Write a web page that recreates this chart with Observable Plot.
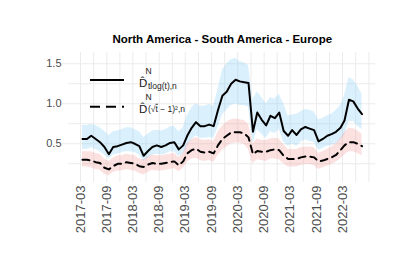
<!DOCTYPE html>
<html><head><meta charset="utf-8">
<script src="https://cdn.jsdelivr.net/npm/d3@7"></script>
<script src="https://cdn.jsdelivr.net/npm/@observablehq/plot@0.6"></script>
<style>body{margin:0;background:#fff;} svg{display:block;}</style>
</head><body><div id="chart"></div>
<script>
const title = "North America - South America - Europe";
const months = ["2017-03","2017-04","2017-05","2017-06","2017-07","2017-08","2017-09","2017-10","2017-11","2017-12",
"2018-01","2018-02","2018-03","2018-04","2018-05","2018-06","2018-07","2018-08","2018-09","2018-10","2018-11","2018-12",
"2019-01","2019-02","2019-03","2019-04","2019-05","2019-06","2019-07","2019-08","2019-09","2019-10","2019-11","2019-12",
"2020-01","2020-02","2020-03","2020-04","2020-05","2020-06","2020-07","2020-08","2020-09","2020-10","2020-11","2020-12",
"2021-01","2021-02","2021-03","2021-04","2021-05","2021-06","2021-07","2021-08","2021-09","2021-10","2021-11","2021-12",
"2022-01","2022-02","2022-03","2022-04","2022-05","2022-06","2022-07"];
const tlogValues = [0.56,0.56,0.60,0.56,0.52,0.46,0.37,0.46,0.47,0.49,0.51,0.52,0.50,0.47,0.35,0.41,0.46,0.48,0.46,0.48,0.51,0.52,
0.43,0.48,0.60,0.70,0.77,0.72,0.72,0.74,0.72,0.92,1.10,1.15,1.25,1.30,1.28,1.27,1.26,0.65,0.89,0.80,0.73,0.85,0.82,0.89,
0.66,0.60,0.67,0.61,0.68,0.71,0.69,0.67,0.53,0.56,0.60,0.62,0.65,0.70,0.79,1.05,1.03,0.94,0.87];
const tlogUpper = [0.73,0.73,0.74,0.73,0.70,0.66,0.60,0.65,0.66,0.68,0.70,0.70,0.68,0.65,0.58,0.62,0.66,0.67,0.66,0.68,0.71,0.72,
0.65,0.70,0.85,0.95,1.00,0.97,0.97,0.99,0.97,1.18,1.42,1.50,1.55,1.57,1.53,1.51,1.48,1.05,1.15,1.08,1.00,1.08,1.06,1.12,
1.00,0.85,0.86,0.87,0.90,0.93,0.92,0.90,0.80,0.82,0.85,0.87,0.92,0.98,1.10,1.33,1.30,1.22,1.12];
const tlogLower = [0.43,0.43,0.45,0.43,0.40,0.36,0.31,0.36,0.37,0.39,0.40,0.40,0.39,0.36,0.28,0.32,0.36,0.37,0.36,0.37,0.40,0.40,
0.34,0.37,0.46,0.55,0.60,0.57,0.57,0.58,0.57,0.70,0.86,0.92,0.98,1.00,0.98,0.98,0.96,0.50,0.68,0.62,0.57,0.65,0.63,0.68,
0.52,0.47,0.50,0.47,0.52,0.55,0.53,0.52,0.42,0.44,0.47,0.48,0.50,0.54,0.60,0.78,0.78,0.72,0.68];
const sqrtValues = [0.30,0.30,0.29,0.27,0.26,0.20,0.18,0.22,0.25,0.25,0.27,0.26,0.25,0.22,0.21,0.24,0.26,0.25,0.25,0.26,0.27,0.28,
0.23,0.28,0.38,0.42,0.44,0.40,0.39,0.40,0.38,0.48,0.56,0.60,0.64,0.645,0.645,0.63,0.58,0.37,0.41,0.40,0.40,0.42,0.43,0.42,
0.35,0.31,0.31,0.31,0.33,0.34,0.34,0.33,0.28,0.29,0.31,0.33,0.36,0.42,0.48,0.52,0.52,0.50,0.47];
const sqrtUpper = [0.40,0.40,0.40,0.38,0.37,0.31,0.28,0.32,0.35,0.35,0.37,0.36,0.35,0.31,0.30,0.34,0.36,0.35,0.35,0.36,0.37,0.38,
0.33,0.38,0.50,0.55,0.58,0.55,0.54,0.55,0.53,0.64,0.72,0.77,0.80,0.81,0.80,0.79,0.74,0.50,0.56,0.54,0.54,0.56,0.57,0.56,
0.49,0.43,0.43,0.43,0.45,0.46,0.46,0.45,0.38,0.40,0.43,0.46,0.50,0.57,0.64,0.69,0.69,0.66,0.62];
const sqrtLower = [0.21,0.21,0.20,0.18,0.17,0.12,0.10,0.14,0.16,0.16,0.18,0.17,0.16,0.13,0.11,0.14,0.17,0.16,0.16,0.17,0.18,0.19,
0.15,0.19,0.27,0.31,0.32,0.29,0.28,0.29,0.27,0.35,0.42,0.46,0.50,0.51,0.51,0.49,0.43,0.25,0.30,0.29,0.28,0.31,0.31,0.30,
0.25,0.21,0.21,0.21,0.23,0.24,0.24,0.23,0.18,0.20,0.22,0.24,0.27,0.31,0.36,0.40,0.40,0.38,0.35];
const xTickLabels = ["2017-03","2017-09","2018-03","2018-09","2019-03","2019-09","2020-03","2020-09","2021-03","2021-09","2022-03"];
const xGridMonths = ["2017-03","2017-06","2017-09","2017-12","2018-03","2018-06","2018-09","2018-12","2019-03","2019-06","2019-09","2019-12",
"2020-03","2020-06","2020-09","2020-12","2021-03","2021-06","2021-09","2021-12","2022-03","2022-06","2022-09"];
const yTickValues = [0.5, 1.0, 1.5];
const yGridValues = [0.25, 0.5, 0.75, 1.0, 1.25, 1.5];

const mid = m => new Date(m + "-15T00:00:00Z");
const first = m => new Date(m + "-01T00:00:00Z");
const rows = months.map((m, i) => ({
  date: mid(m), tlog: tlogValues[i], tlogLo: tlogLower[i], tlogHi: tlogUpper[i],
  sq: sqrtValues[i], sqLo: sqrtLower[i], sqHi: sqrtUpper[i]
}));
const d0 = rows[0].date, d1 = rows[rows.length - 1].date;
const span = d1 - d0;
const xDomain = [new Date(+d0 - 0.05 * span), new Date(+d1 + 0.05 * span)];
const font = "Liberation Sans, Arial, Helvetica, sans-serif";

const W = 407, H = 273;
const plot = Plot.plot({
  width: W, height: H,
  marginLeft: 68, marginRight: 31.5, marginTop: 52, marginBottom: 91,
  style: {fontFamily: font, background: "#fff"},
  x: {type: "utc", domain: xDomain},
  y: {domain: [0.016, 1.641]},
  marks: [
    Plot.ruleX(xGridMonths.map(first), {stroke: "#ebebeb", strokeWidth: 1}),
    Plot.ruleY(yGridValues, {stroke: "#ebebeb", strokeWidth: 1}),
    Plot.areaY(rows, {x: "date", y1: "tlogLo", y2: "tlogHi", fill: "#87cefa", fillOpacity: 0.3}),
    Plot.areaY(rows, {x: "date", y1: "sqLo", y2: "sqHi", fill: "#f49a9a", fillOpacity: 0.3}),
    Plot.lineY(rows, {x: "date", y: "tlog", stroke: "#000", strokeWidth: 2}),
    Plot.lineY(rows, {x: "date", y: "sq", stroke: "#000", strokeWidth: 2, strokeDasharray: "7,5"}),
    Plot.axisX(xTickLabels.map(first), {tickRotate: -90, tickSize: 0, tickPadding: 3, fontSize: 13,
      fill: "#4d4d4d", tickFormat: d3.utcFormat("%Y-%m")}),
    Plot.axisY(yTickValues, {tickSize: 6, stroke: "#ebebeb", fill: "#4d4d4d", tickPadding: 1, fontSize: 11,
      tickFormat: d3.format(".1f")}),
    Plot.text([title], {frameAnchor: "top", dy: -17.7, fontSize: 11.5, fontWeight: "bold", fill: "#000"})
  ]
});
document.getElementById("chart").appendChild(plot);

// legend (no background, inside panel)
const svg = d3.select(plot);
const lg = svg.append("g").attr("font-family", font).attr("fill", "#1a1a1a").attr("text-anchor", "start");
const keys = [
  {y: 80, dash: null, base: 87, subDy: 1.5, sub: ["tlog(t),n"]},
  {y: 106.7, dash: "10,6", base: 113.3, subDy: -1.5, sub: ["(√", "t", " − 1)²,n"]}
];
keys.forEach(k => {
  lg.append("line").attr("x1", 90).attr("x2", 124).attr("y1", k.y).attr("y2", k.y)
    .attr("stroke", "#000").attr("stroke-width", 2).attr("stroke-dasharray", k.dash);
  const t = lg.append("text").attr("x", 139).attr("y", k.base).attr("font-size", 11.5);
  t.append("tspan").text("D\u0302");
  t.append("tspan").attr("x", 145.5).attr("y", k.base - 13).attr("font-size", 8.5).text("N");
  k.sub.forEach((s, j) => {
    const ts = t.append("tspan").attr("font-size", 8.5).text(s);
    if (j === 0) ts.attr("x", 148).attr("y", k.base + k.subDy);
    if (j === 1) ts.attr("text-decoration", "overline");
  });
});
</script>
</body></html>
